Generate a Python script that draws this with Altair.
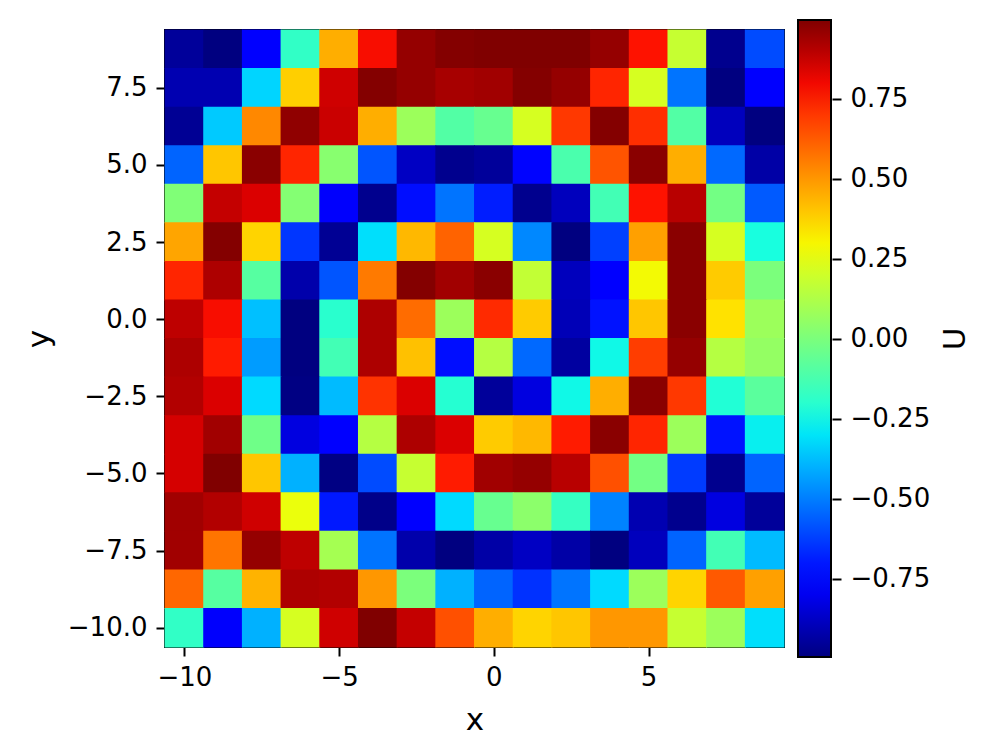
import altair as alt
import pandas as pd

x_centers = [-10.0, -8.75, -7.5, -6.25, -5.0, -3.75, -2.5, -1.25,
             0.0, 1.25, 2.5, 3.75, 5.0, 6.25, 7.5, 8.75]
# rows from top (y = 8.75) to bottom (y = -10)
y_centers = [8.75, 7.5, 6.25, 5.0, 3.75, 2.5, 1.25, 0.0,
             -1.25, -2.5, -3.75, -5.0, -6.25, -7.5, -8.75, -10.0]

U = [
    [-0.95, -1.0, -0.77, -0.18, 0.45, 0.79, 0.96, 0.99, 1.0, 1.0, 1.0, 0.96, 0.78, 0.18, -0.97, -0.6],
    [-0.91, -0.91, -0.33, 0.38, 0.86, 0.99, 0.96, 0.93, 0.94, 0.99, 0.96, 0.74, 0.22, -0.52, -1.0, -0.77],
    [-0.96, -0.35, 0.53, 0.97, 0.87, 0.45, 0.08, -0.1, -0.05, 0.22, 0.7, 0.99, 0.72, -0.1, -0.89, -1.0],
    [-0.55, 0.4, 0.98, 0.74, 0.03, -0.58, -0.88, -0.97, -0.95, -0.74, -0.12, 0.64, 0.98, 0.45, -0.54, -0.93],
    [0.01, 0.88, 0.84, 0.02, -0.78, -0.97, -0.72, -0.52, -0.69, -0.97, -0.89, -0.14, 0.78, 0.9, -0.02, -0.57],
    [0.47, 0.99, 0.37, -0.64, -0.96, -0.31, 0.43, 0.61, 0.22, -0.48, -1.0, -0.62, 0.48, 0.98, 0.22, -0.24],
    [0.74, 0.92, -0.09, -0.92, -0.58, 0.56, 0.99, 0.94, 0.98, 0.17, -0.89, -0.77, 0.29, 0.98, 0.39, 0.0],
    [0.89, 0.79, -0.37, -1.0, -0.2, 0.92, 0.59, 0.08, 0.73, 0.39, -0.9, -0.71, 0.4, 0.98, 0.34, 0.08],
    [0.92, 0.76, -0.44, -1.0, -0.14, 0.92, 0.41, -0.72, 0.14, -0.54, -0.94, -0.26, 0.69, 0.96, 0.14, 0.06],
    [0.91, 0.84, -0.32, -0.99, -0.38, 0.71, 0.84, -0.21, -0.95, -0.83, -0.26, 0.45, 0.98, 0.7, -0.22, -0.08],
    [0.85, 0.94, -0.03, -0.83, -0.77, 0.14, 0.92, 0.84, 0.39, 0.43, 0.76, 0.98, 0.74, 0.08, -0.71, -0.28],
    [0.85, 1.0, 0.4, -0.4, -0.99, -0.6, 0.18, 0.76, 0.94, 0.96, 0.9, 0.65, -0.02, -0.63, -0.97, -0.55],
    [0.94, 0.91, 0.86, 0.27, -0.7, -0.98, -0.77, -0.32, -0.05, 0.04, -0.17, -0.49, -0.91, -0.97, -0.83, -0.95],
    [0.94, 0.57, 0.96, 0.89, 0.1, -0.52, -0.92, -1.0, -0.93, -0.88, -0.93, -1.0, -0.89, -0.55, -0.14, -0.38],
    [0.6, -0.09, 0.44, 0.92, 0.91, 0.5, 0.0, -0.4, -0.55, -0.65, -0.52, -0.32, 0.08, 0.37, 0.63, 0.48],
    [-0.18, -0.78, -0.4, 0.22, 0.86, 1.0, 0.88, 0.65, 0.45, 0.37, 0.4, 0.5, 0.5, 0.18, 0.08, -0.31],
]

x_ticks = [-10, -5, 0, 5]
y_ticks = [-10.0, -7.5, -5.0, -2.5, 0.0, 2.5, 5.0, 7.5]
cbar_ticks = [-0.75, -0.5, -0.25, 0.0, 0.25, 0.5, 0.75]
vmin, vmax = -0.995, 0.997

half = 0.64  # half cell (1.25 / 2) plus a hair of overlap to hide seams
rows = []
for i, yc in enumerate(y_centers):
    for j, xc in enumerate(x_centers):
        rows.append({"x0": xc - half, "x1": xc + half,
                     "y0": yc - half, "y1": yc + half, "U": U[i][j]})
df = pd.DataFrame(rows)

# matplotlib "jet" colormap stops
jet_t = [0.0, 0.11, 0.125, 0.34, 0.35, 0.375, 0.64, 0.65, 0.66, 0.89, 0.91, 1.0]
jet_c = ["#000080", "#0000ff", "#0000ff", "#00dbff", "#00e6f7", "#15ffe2",
         "#efff08", "#f7f600", "#ffec00", "#ff1300", "#e80000", "#800000"]
jet_dom = [vmin + t * (vmax - vmin) for t in jet_t]

FONT = "DejaVu Sans"
minus_fix = "replace(format(datum.value, '{fmt}'), '-', '\u2212')"

heat = alt.Chart(df).mark_rect(strokeWidth=0).encode(
    x=alt.X("x0:Q", scale=alt.Scale(domain=[-10.625, 9.375], nice=False, zero=False),
            axis=alt.Axis(title="x", values=x_ticks,
                          labelExpr=minus_fix.format(fmt=".0f"),
                          grid=False, domain=False, tickSize=9, tickWidth=2,
                          tickColor="black", labelPadding=8, labelFontSize=26,
                          titleFontSize=31, titleFontWeight="normal",
                          titlePadding=15, labelFont=FONT, titleFont=FONT,
                          labelColor="black", titleColor="black")),
    x2="x1:Q",
    y=alt.Y("y0:Q", scale=alt.Scale(domain=[-10.625, 9.375], nice=False, zero=False),
            axis=alt.Axis(title="y", values=y_ticks,
                          labelExpr=minus_fix.format(fmt=".1f"),
                          grid=False, domain=False, tickSize=9, tickWidth=2,
                          tickColor="black", labelPadding=9, labelFontSize=26,
                          titleFontSize=31, titleFontWeight="normal",
                          titlePadding=12, labelFont=FONT, titleFont=FONT,
                          labelColor="black", titleColor="black")),
    y2="y1:Q",
    color=alt.Color("U:Q",
                    scale=alt.Scale(domain=jet_dom, range=jet_c, clamp=True,
                                    interpolate="rgb"),
                    legend=alt.Legend(title=None, orient="none", legendX=633,
                                      legendY=-10, direction="vertical",
                                      gradientLength=637, gradientThickness=33,
                                      gradientStrokeColor="black",
                                      gradientStrokeWidth=2,
                                      values=cbar_ticks,
                                      labelExpr="''")),
)

# colour-bar ticks and labels: an axis on the right side of the bar
tick_df = pd.DataFrame({"v": cbar_ticks})
cbar_axis_layer = alt.Chart(tick_df).mark_rule(opacity=0).encode(
    y=alt.Y("v:Q",
            scale=alt.Scale(domain=[vmin, vmax], range=[627, -10],
                            nice=False, zero=False),
            axis=alt.Axis(orient="right", offset=48, title=None,
                          values=cbar_ticks,
                          labelExpr=minus_fix.format(fmt=".2f"),
                          grid=False, domain=False, tickSize=9, tickWidth=2,
                          tickColor="black", labelPadding=9, labelFontSize=26,
                          labelFont=FONT, labelColor="black",
                          labelOverlap=False, labelBound=False,
                          labelFlush=False)),
    x=alt.value(666), x2=alt.value(675),
)

title_df = pd.DataFrame({"label": ["U"]})
cbar_title = alt.Chart(title_df).mark_text(
    angle=270, fontSize=31, font=FONT, color="black", align="center",
    baseline="middle").encode(
    x=alt.value(791), y=alt.value(309), text="label:N")

chart = alt.layer(heat, cbar_axis_layer, cbar_title).resolve_scale(
    y="independent"
).properties(
    width=619, height=617,
    autosize=alt.AutoSizeParams(type="none"),
    padding={"left": 157, "top": 22, "right": 203, "bottom": 101},
).configure_view(stroke="black", strokeWidth=2)

chart.save("out.html", embed_options={"renderer": "svg", "actions": False})
